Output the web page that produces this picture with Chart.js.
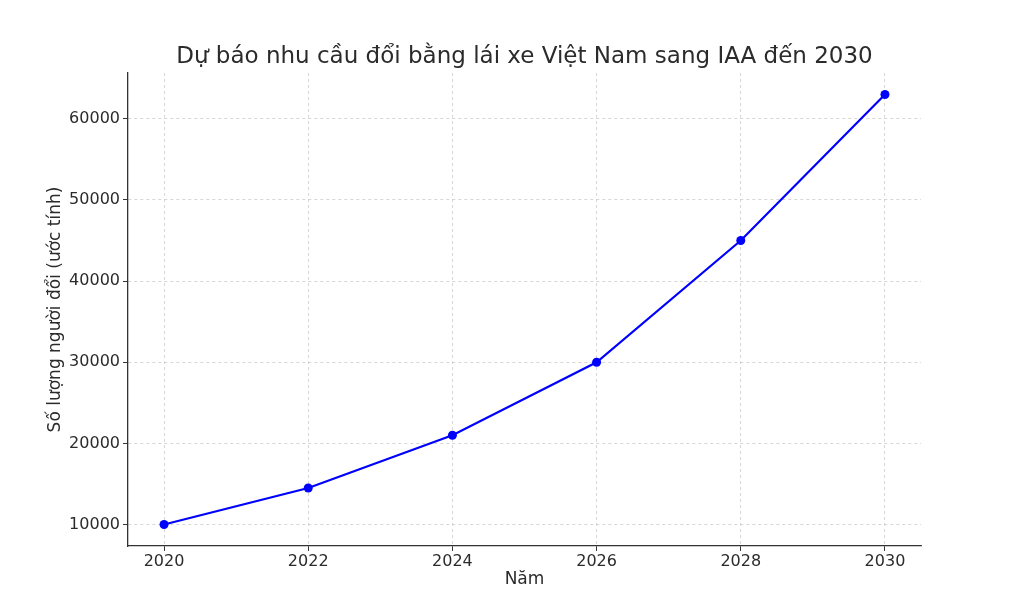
<!DOCTYPE html>
<html lang="vi">
<head>
    <meta charset="UTF-8">
    <title>Dự báo nhu cầu đổi bằng lái xe</title>
    <script src="https://cdn.jsdelivr.net/npm/chart.js@4.4.1/dist/chart.umd.min.js"></script>
    <style>
        body { margin: 0; padding: 0; background: #ffffff; }
        .wrap { width: 1024px; height: 614px; }
    </style>
</head>
<body>
    <div class="wrap">
        <canvas id="chart" width="1024" height="614"></canvas>
    </div>

    <script>
        // Données
        const years = [2020, 2022, 2024, 2026, 2028, 2030];
        const demand = [10000, 14500, 21000, 30000, 45000, 63000];
        const xTicks = [2020, 2022, 2024, 2026, 2028, 2030];
        const yTicks = [10000, 20000, 30000, 40000, 50000, 60000];

        const titleText = 'Dự báo nhu cầu đổi bằng lái xe Việt Nam sang IAA đến 2030';
        const textColor = '#2b2b2b';
        const fontFamily = "'DejaVu Sans', sans-serif";

        // titre centré sur la zone du graphique (comme matplotlib)
        const titlePlugin = {
            id: 'axesTitle',
            afterDraw(chart) {
                const ctx = chart.ctx;
                const area = chart.chartArea;
                ctx.save();
                ctx.font = '23px ' + fontFamily;
                ctx.fillStyle = textColor;
                ctx.textAlign = 'center';
                ctx.textBaseline = 'middle';
                ctx.fillText(titleText, (area.left + area.right) / 2, 57);
                ctx.restore();
            }
        };

        const gridOpts = {
            color: '#cccccc',
            lineWidth: 0.8,
            tickColor: '#333333',
            tickLength: 5,
            tickBorderDash: [],
            tickWidth: 1
        };
        const borderOpts = { display: true, color: '#333333', width: 1.3, dash: [3, 3] };

        new Chart(document.getElementById('chart'), {
            type: 'line',
            data: {
                datasets: [{
                    data: years.map((y, i) => ({ x: y, y: demand[i] })),
                    borderColor: '#0000ff',
                    backgroundColor: '#0000ff',
                    borderWidth: 2.2,
                    pointRadius: 4.5,
                    pointBorderWidth: 0,
                    tension: 0
                }]
            },
            options: {
                responsive: false,
                animation: false,
                layout: { padding: { top: 73, right: 103, bottom: 0, left: 0 } },
                plugins: {
                    legend: { display: false },
                    tooltip: { enabled: false }
                },
                scales: {
                    x: {
                        type: 'linear',
                        min: 2019.5,
                        max: 2030.5,
                        afterBuildTicks: s => { s.ticks = xTicks.map(v => ({ value: v })); },
                        afterFit: s => { s.height = 68; },
                        grid: gridOpts,
                        border: borderOpts,
                        ticks: {
                            color: textColor,
                            font: { family: fontFamily, size: 16 },
                            padding: 1,
                            maxRotation: 0,
                            callback: v => String(v)
                        },
                        title: {
                            display: true,
                            text: 'Năm',
                            color: textColor,
                            font: { family: fontFamily, size: 17 },
                            padding: { top: 0, bottom: 24 }
                        }
                    },
                    y: {
                        min: 7350,
                        max: 65650,
                        afterBuildTicks: s => { s.ticks = yTicks.map(v => ({ value: v })); },
                        afterFit: s => { s.width = 128; },
                        grid: gridOpts,
                        border: borderOpts,
                        ticks: {
                            color: textColor,
                            font: { family: fontFamily, size: 16 },
                            padding: 3,
                            callback: v => String(v)
                        },
                        title: {
                            display: true,
                            text: 'Số lượng người đổi (ước tính)',
                            color: textColor,
                            font: { family: fontFamily, size: 17 },
                            padding: { top: 45, bottom: 0 }
                        }
                    }
                }
            },
            plugins: [titlePlugin]
        });
    </script>
</body>
</html>
